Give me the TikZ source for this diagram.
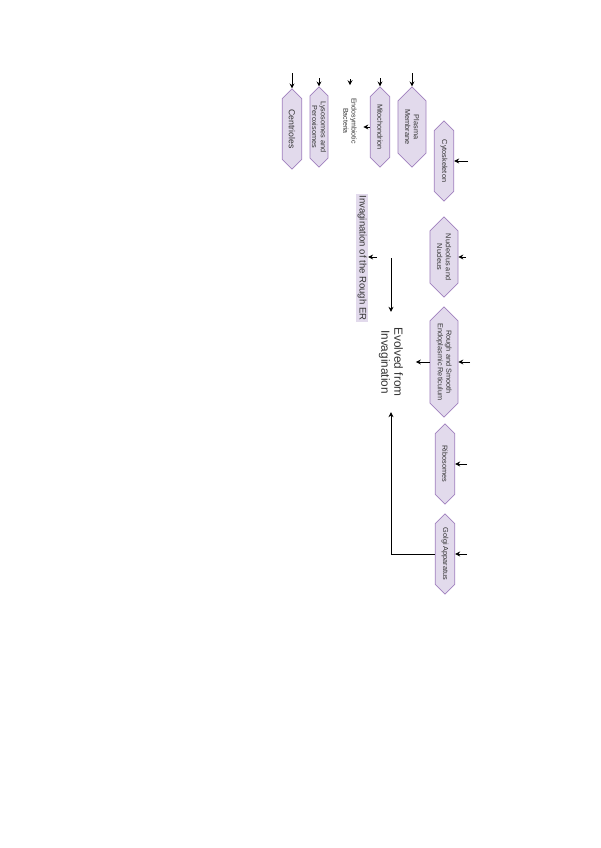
\documentclass[tikz,border=0pt]{standalone}
\usepackage{fontspec}
\setmainfont{Liberation Sans}
\usetikzlibrary{arrows.meta,shapes.symbols}

\definecolor{cellfill}{RGB}{226,218,236}
\definecolor{cellline}{RGB}{160,128,190}

\begin{document}
\begin{tikzpicture}[x=0.025cm, y=0.025cm,
  org/.style={signal, signal to=east and west, draw=cellline, fill=cellfill, line width=0.5pt,
              minimum width=57pt, minimum height=14pt, inner xsep=2pt, inner ysep=1pt,
              align=center, text=black!80, font=\fontsize{5.2}{6.2}\selectfont},
  tall/.style={minimum height=20pt},
  note/.style={align=center, inner xsep=9pt, inner ysep=4.5pt, text=black!80,
               font=\fontsize{5}{6}\selectfont},
  hl/.style={fill=cellfill, inner sep=1pt, text=black!80, font=\fontsize{6.8}{8}\selectfont},
  big/.style={align=center, inner xsep=11pt, inner ysep=9pt, text=black!80,
              font=\fontsize{8.4}{9.2}\selectfont},
  lnk/.style={-{Stealth[length=3.5pt,width=3.5pt]}, line width=0.6pt},
]
\useasboundingbox (0,0) rectangle (600,-848);
\begin{scope}[rotate=-90, transform shape]
% left group
\node[org, font=\fontsize{6.2}{7.2}\selectfont] (cent) at (129,292) {Centrioles};
\node[org, minimum height=12.8pt, inner ysep=0.5pt] (lyso) at (127,319) {Lysosomes and\\Peroxisomes};
\node[note] (bact) at (121,350) {Endosymbiotic\\Bacteria};
\node[org] (mito) at (127,380) {Mitochondrion};
\node[org, tall] (plasma) at (127,412) {Plasma\\Membrane};
% right column
\node[org] (cyto) at (161,444) {Cytoskeleton};
\node[org, tall] (nucl) at (257,444) {Nucleolus and\\Nucleus};
\node[org, tall, minimum width=72pt] (er) at (362,444) {Rough and Smooth\\Endoplasmic Reticulum};
\node[org] (ribo) at (464,445) {Ribosomes};
\node[org] (golgi) at (554,445) {Golgi Apparatus};
% middle
\node[big] (evolved) at (362,391) {Evolved from\\Invagination};
\node[hl] (invag) at (258,362) {Invagination of the Rough ER};

\coordinate (cent-in) at (73,292);
\coordinate (lyso-in) at (78,319);
\coordinate (bact-in) at (79,350);
\coordinate (mito-in) at (78,380);
\coordinate (plasma-in) at (73,412);
\coordinate (cyto-in) at (161,468);
\coordinate (nucl-in) at (257,466);
\coordinate (er-in) at (362,470);
\coordinate (ribo-in) at (464,467);
\coordinate (golgi-in) at (554,467);
\coordinate (evolved-in) at (258,391);
\coordinate (invag-in) at (257,377);

\foreach \n in {cent,lyso,bact,mito,plasma}
  \draw[lnk] (\n-in) -- (\n.west);
\foreach \n in {cyto,nucl,er,ribo,golgi}
  \draw[lnk] (\n-in) -- (\n.north);
\draw[lnk] (mito.south) -- (mito.south |- bact.north);
\draw[lnk] (invag-in) -- (invag-in |- invag.north);
\draw[lnk] (er.south) -- (er.south |- evolved.north);
\draw[lnk] (evolved-in) -- (evolved.west);
\draw[lnk] (golgi.south) |- (evolved.east);
\end{scope}
\end{tikzpicture}
\end{document}
